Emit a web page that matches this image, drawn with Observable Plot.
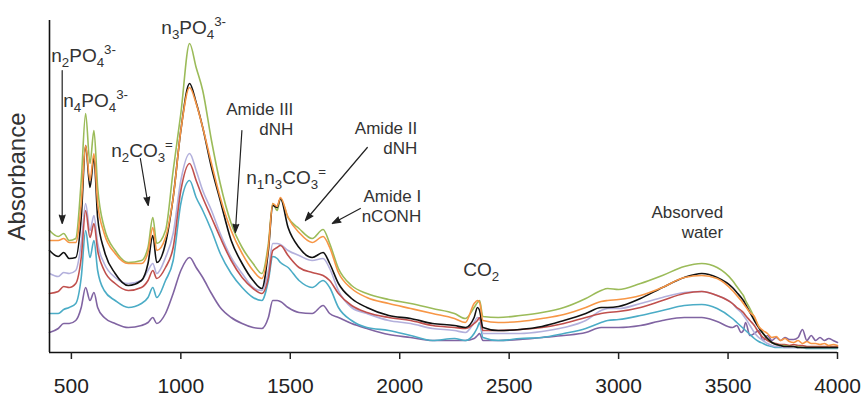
<!DOCTYPE html>
<html><head><meta charset="utf-8">
<script src="https://cdn.jsdelivr.net/npm/d3@7"></script>
<script src="https://cdn.jsdelivr.net/npm/@observablehq/plot@0.6"></script>
<style>
html,body{margin:0;padding:0;background:#fff;}
#chart svg{font-family:"Liberation Sans",Arial,sans-serif;overflow:visible;}
</style></head>
<body><div id="chart"></div>
<script>
// Wavenumber grid (cm-1)
const wavenumbers = [400,440,465,490,520,545,565,585,603,620,650,700,760,820,850,872,890,930,965,1000,1040,1070,1100,1140,1180,1230,1280,1330,1370,1400,1420,1440,1455,1490,1540,1600,1650,1680,1720,1780,1850,1950,2050,2150,2250,2300,2340,2355,2365,2380,2450,2550,2650,2750,2850,2920,2950,3000,3100,3200,3300,3380,3450,
  3520,3540,3560,3570,3580,3600,3620,3640,3660,3680,3700,3720,3740,3760,3780,3800,3820,3840,3860,3880,3900,3920,3940,3960,3980,4000];

// Absorbance (arbitrary units) of each spectrum, named by line colour
const greenLine    = [122,116,119,112,114,172,239,189,222,165,125,102,90,92,105,135,109,122,182,239,309,285,262,212,169,129,105,89,79,109,149,142,154,135,124,114,123,109,84,67,59,53,49,44,39,34,45,50,52,36,35,37,40,45,54,62,64,63,69,77,86,89,85,
  72,66,60,57,52,44,35,26,19,14,10,8,7,7,6,6,6,5,5,5,5,5,5,5,5,5];
const orangeLine   = [112,112,114,110,110,149,207,172,199,149,119,99,89,89,100,125,102,115,155,222,265,249,225,189,155,122,99,82,74,105,149,146,155,135,120,110,116,105,80,64,55,49,44,39,34,30,49,52,50,32,30,31,34,38,45,51,52,53,57,65,75,77,74,
  62,57,52,49,46,40,36,26,22,19,15,16,12,14,11,10,12,9,11,9,9,8,9,7,8,7];
const blackLine    = [102,96,100,94,95,135,207,165,195,135,102,79,67,72,89,117,90,109,155,222,269,250,225,185,152,112,89,72,64,102,147,145,154,125,105,95,100,89,69,54,45,37,34,29,27,25,35,45,42,25,22,23,26,32,39,45,45,46,54,65,75,79,75,
  65,60,55,52,48,40,32,25,19,14,10,8,7,6,6,6,5,5,5,5,5,5,5,5,5,5];
const lavenderLine = [79,76,80,79,82,109,149,122,137,109,89,75,69,72,82,89,79,95,119,172,199,182,162,142,119,95,79,65,62,82,109,109,108,102,97,92,94,84,62,45,39,32,29,24,22,20,30,35,34,19,19,19,21,25,32,42,44,44,49,55,60,61,57,
  49,44,40,37,34,27,20,15,12,9,7,6,6,5,5,5,5,5,5,5,5,5,5,5,5,5];
const redLine      = [59,61,66,65,69,95,142,115,129,102,82,69,62,65,72,82,74,85,105,162,189,172,155,135,115,92,75,64,59,75,102,105,107,97,85,80,77,72,59,47,40,35,32,27,25,24,29,32,35,22,22,23,25,29,35,39,40,41,45,52,59,61,57,
  49,45,42,40,37,32,27,20,15,12,10,9,8,8,7,8,7,7,6,6,6,6,6,6,6,6];
const tealLine     = [39,39,43,45,49,75,122,95,112,82,62,52,45,49,55,65,55,72,92,149,172,155,142,122,99,79,65,55,52,72,96,94,90,85,72,65,72,65,45,32,25,22,17,12,14,12,19,25,30,15,12,14,15,19,24,30,32,33,37,42,47,48,44,
  34,30,26,24,22,18,14,11,9,7,6,5,5,5,5,5,5,5,4,4,4,4,4,4,4,4];
const purpleLine   = [20,24,29,29,32,45,65,52,60,45,35,29,25,27,30,35,29,39,59,82,95,85,75,59,45,35,29,25,24,35,52,52,51,45,40,39,47,39,35,29,24,18,15,12,12,12,14,17,19,12,12,13,15,17,20,25,25,25,27,32,35,35,31,
  25,27,20,22,30,17,19,22,12,17,12,15,12,15,13,13,15,23,12,17,12,15,12,14,12,10];

const seriesNames  = ["S1","S2","S3","S4","S5","S6","S7"];
const seriesColors = ["#8064a2","#4bacc6","#b3b0dc","#c0504d","#9bbb59","#111111","#f79646"];
const xTicks = [500,1000,1500,2000,2500,3000,3500,4000];

// Peak labels (text, wavenumber, absorbance)
const formulaLabels = ["n_2PO_4^{3-}","n_4PO_4^{3-}","n_3PO_4^{3-}","n_2CO_3^=","n_1n_3CO_3^=","CO_2"];
const formulaX = [408,463,911,682,1299,2290];
const formulaY = [297,252,325,202,175,83];
const blockLabels = ["Amide III\ndNH","Amide II\ndNH","Amide I\nnCONH","Absorved\nwater"];
const blockX = [1514,2080,2098,3478];
const blockY = [234,215,147,131];
// Arrows (from -> to)
const arrowX1 = [458,815,1279,1852,1820];
const arrowY1 = [282,194,222,205,144];
const arrowX2 = [458,851,1249,1569,1692];
const arrowY2 = [129,147,120,132,129];

const seriesValues = [purpleLine, tealLine, lavenderLine, redLine, greenLine, blackLine, orangeLine];
const rows = seriesNames.flatMap((name, k) => wavenumbers.map((w, i) => ({wn: w, a: seriesValues[k][i], s: name})));
const formulas = formulaLabels.map((t, i) => ({t, x: formulaX[i], y: formulaY[i]}));
const blocks = blockLabels.map((t, i) => ({t, x: blockX[i], y: blockY[i]}));
const arrows = arrowX1.map((x1, i) => ({x1, y1: arrowY1[i], x2: arrowX2[i], y2: arrowY2[i]}));

const chart = Plot.plot({
  width: 864,
  height: 399,
  marginLeft: 49,
  marginRight: 27,
  marginTop: 20,
  marginBottom: 47,
  x: {domain: [400, 4000], ticks: xTicks},
  y: {domain: [0, 332], axis: null},
  color: {domain: seriesNames, range: seriesColors},
  marks: [
    Plot.line(rows, {x: "wn", y: "a", z: "s", stroke: "s", strokeWidth: 1.6, curve: "monotone-x"}),
    Plot.ruleY([0], {stroke: "#111", strokeWidth: 1.6}),
    Plot.ruleX([400], {stroke: "#111", strokeWidth: 1.6}),
    Plot.axisX({ticks: xTicks, tickSize: 7, tickPadding: 19, fontSize: 21, strokeWidth: 1.5, color: "#222", tickFormat: d => String(d)}),
    Plot.arrow(arrows, {x1: "x1", y1: "y1", x2: "x2", y2: "y2", stroke: "#222", fill: "#222", strokeWidth: 1.2, headLength: 11, headAngle: 38}),
    Plot.text(formulas, {x: "x", y: "y", text: "t", textAnchor: "start", fontSize: 19, fill: "#333"}),
    Plot.text(blocks, {x: "x", y: "y", text: "t", textAnchor: "end", fontSize: 17, lineHeight: 1.18, fill: "#333"}),
    Plot.text(["Absorbance"], {frameAnchor: "left", textAnchor: "middle", dx: -32, dy: -10, rotate: -90, fontSize: 24, fill: "#333", letterSpacing: 2})
  ]
});

// Turn _x (subscript) and ^x (superscript) markup into real tspans
const NS = "http://www.w3.org/2000/svg";
chart.querySelectorAll("text").forEach(t => {
  if (t.querySelector("tspan")) return;
  const s = t.textContent;
  if (!/[_^]/.test(s)) return;
  t.textContent = "";
  let shift = 0;
  for (const m of s.matchAll(/([_^])(\{[^}]*\}|.)|([^_^]+)/g)) {
    const sp = document.createElementNS(NS, "tspan");
    let target = 0, txt;
    if (m[3] !== undefined) { txt = m[3]; }
    else { txt = m[2].replace(/[{}]/g, ""); target = m[1] === "_" ? 5 : -8; sp.setAttribute("font-size", "70%"); }
    if (target !== shift) sp.setAttribute("dy", target - shift);
    shift = target;
    sp.textContent = txt;
    t.appendChild(sp);
  }
});
document.getElementById("chart").appendChild(chart);
</script>
</body></html>
